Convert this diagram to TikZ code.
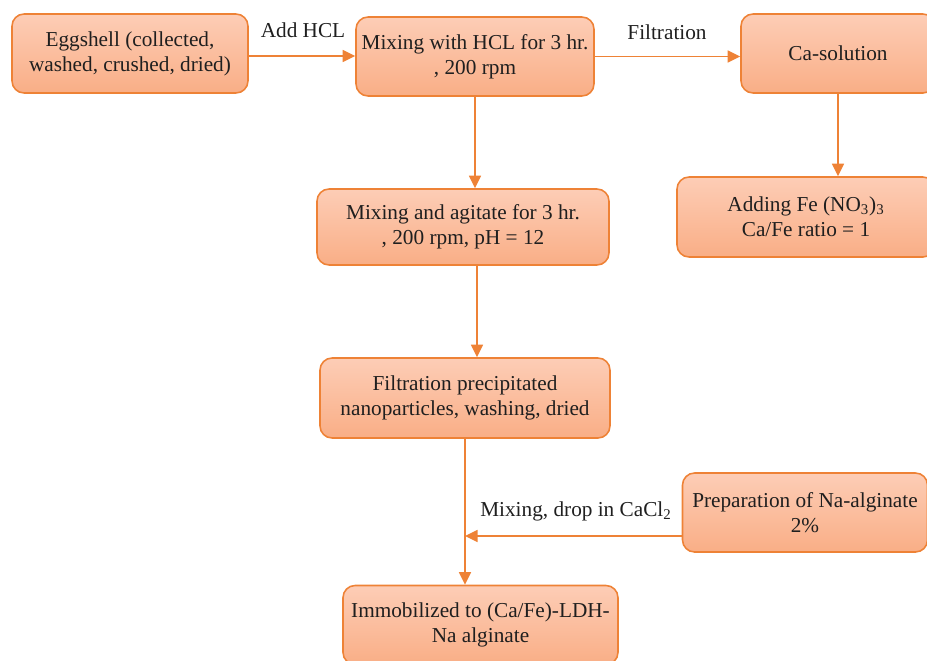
\documentclass[tikz,border=0pt]{standalone}
\usepackage{fontspec}
\setmainfont{Liberation Serif}
\usetikzlibrary{arrows.meta}
\definecolor{boxline}{HTML}{EE8236}
\definecolor{boxtop}{HTML}{FDCDB6}
\definecolor{boxbot}{HTML}{F9AE86}
\tikzset{
  stepbox/.style={draw=boxline, line width=0.9pt, rounded corners=0.24cm,
    top color=boxtop, bottom color=boxbot, align=center, inner sep=0pt,
    font=\fontsize{12.1}{14.2}\selectfont, text=black!88},
  flow/.style={draw=boxline, line width=0.9pt,
    -{Triangle[length=0.25cm, width=0.24cm]}},
  lbl/.style={font=\fontsize{12.1}{14.2}\selectfont, text=black!88}
}
\begin{document}
\begin{tikzpicture}[x=0.02cm, y=-0.02cm]
  \clip (0,0) rectangle (927,660);
  % boxes
  \node[stepbox, minimum width=4.72cm, minimum height=1.58cm] (egg) at (130,53.5)
    {Eggshell (collected,\\washed, crushed, dried)};
  \node[stepbox, minimum width=4.76cm, minimum height=1.58cm] (hcl) at (475,56.5)
    {Mixing with HCL for 3 hr.\\, 200 rpm};
  \node[stepbox, minimum width=3.88cm, minimum height=1.58cm] (ca) at (838,53.5)
    {Ca-solution};
  \node[stepbox, minimum width=5.16cm, minimum height=1.6cm] (fe) at (806,217)
    {Adding Fe (NO\textsubscript{3})\textsubscript{3}\\Ca/Fe ratio = 1};
  \node[stepbox, minimum width=5.84cm, minimum height=1.52cm] (agit) at (463,227)
    {Mixing and agitate for 3 hr.\\, 200 rpm, pH = 12};
  \node[stepbox, minimum width=5.8cm, minimum height=1.6cm] (filt) at (465,398)
    {Filtration precipitated\\nanoparticles, washing, dried};
  \node[stepbox, minimum width=4.9cm, minimum height=1.58cm] (prep) at (805,512.5)
    {Preparation of Na-alginate\\2\%};
  \node[stepbox, minimum width=5.5cm, minimum height=1.58cm] (imm) at (480.5,625)
    {Immobilized to (Ca/Fe)-LDH-\\Na alginate};
  % connectors
  \draw[flow] ([yshift=-0.05cm]egg.east) -- ([yshift=-0.05cm]egg.east -| hcl.west);
  \draw[flow] (hcl.east) -- (hcl.east -| ca.west);
  \draw[flow] (hcl.south) -- (hcl.south |- agit.north);
  \draw[flow] (ca.south) -- (ca.south |- fe.north);
  \draw[flow] ([xshift=0.28cm]agit.south) -- ([xshift=0.28cm]agit.south |- filt.north);
  \draw[flow] (filt.south) -- (filt.south |- imm.north);
  \coordinate (dropin) at ([yshift=-0.47cm]prep.west);
  \draw[flow] (dropin) -- (dropin -| filt.south);
  % labels
  \node[lbl] (addhcl) at (303,30) {Add HCL};
  \node[lbl] (filtr) at (667,32) {Filtration};
  \node[lbl] (mixdrop) at (576,511) {Mixing, drop in CaCl\textsubscript{2}};
\end{tikzpicture}
\end{document}
